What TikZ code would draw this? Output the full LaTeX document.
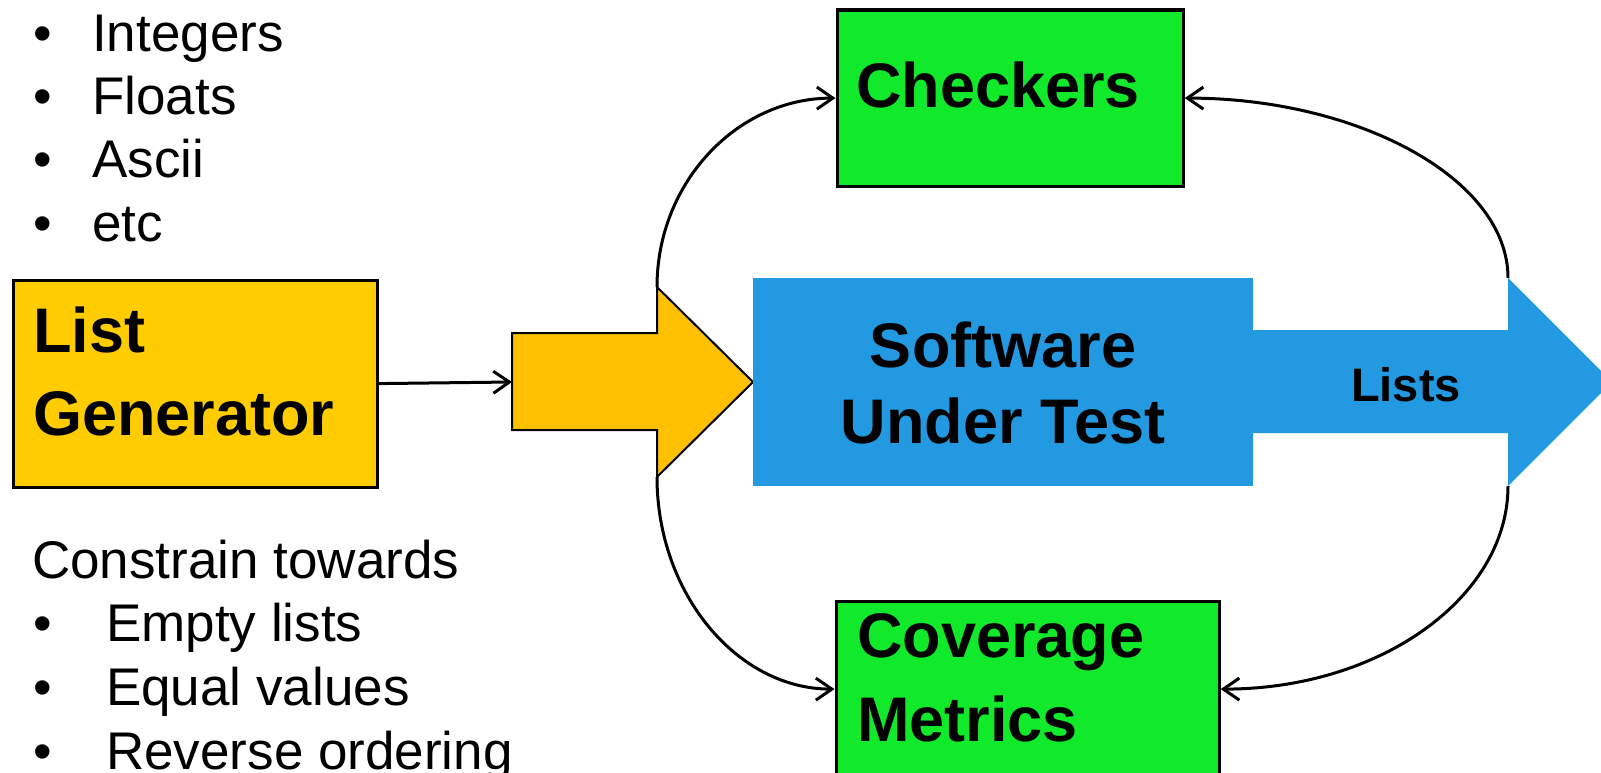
\documentclass[tikz,border=0pt]{standalone}
\usepackage{fontspec}
\setmainfont{Liberation Sans}
\usetikzlibrary{arrows.meta}
\definecolor{lgyellow}{HTML}{FFCC00}
\definecolor{arrowyellow}{HTML}{FFC000}
\definecolor{sutblue}{HTML}{2299E1}
\definecolor{boxgreen}{HTML}{11E92B}
\begin{document}
\begin{tikzpicture}[x=1pt,y=-1pt,
  box/.style={draw=black, line width=3.2pt, inner sep=0pt, anchor=north west},
  conn/.style={line width=3pt, -{Straight Barb[length=16pt,width=22pt]}},
  txt/.style={inner sep=0pt, anchor=base west, font=\fontsize{53}{64}\selectfont},
  btxt/.style={inner sep=0pt, anchor=base west, font=\fontsize{63}{76}\selectfont\bfseries}]
\path[use as bounding box, clip] (0,0) rectangle (1601,773);

% left texts
\node[txt] (i1) at (33,51.5) {\makebox[59pt][l]{•}Integers};
\node[txt] (i2) at (33,114.8) {\makebox[59pt][l]{•}Floats};
\node[txt] (i3) at (33,178) {\makebox[59pt][l]{•}Ascii};
\node[txt] (i4) at (33,241.3) {\makebox[59pt][l]{•}etc};
\node[txt] (c0) at (32,578) {Constrain towards};
\node[txt] (c1) at (33,641) {\makebox[73pt][l]{•}Empty lists};
\node[txt] (c2) at (33,705) {\makebox[73pt][l]{•}Equal values};
\node[txt] (c3) at (33,769) {\makebox[73pt][l]{•}Reverse ordering};

% list generator
\node[box, fill=lgyellow, minimum width=364pt, minimum height=207pt] (lg) at (11.5,278.5) {};
\node[btxt] (lg1) at (33,352.6) {List};
\node[btxt] (lg2) at (33,435.4) {Generator};

% yellow arrow
\draw[fill=arrowyellow, line width=2pt, line join=miter]
  (512,333) -- (657,333) -- (657,287) -- (753,382) -- (657,477) -- (657,430) -- (512,430) -- cycle;
\coordinate (yain) at (512,382);
\coordinate (yatop) at (657,287);
\coordinate (yabot) at (657,477);

% software under test
\fill[sutblue] (753,278) rectangle (1253,486);
\fill[sutblue] (1252,330) -- (1508,330) -- (1508,278) -- (1612,382) -- (1508,486) -- (1508,433) -- (1252,433) -- cycle;
\coordinate (batop) at (1508,278);
\coordinate (babot) at (1508,486);
\node[btxt, anchor=base] (sut1) at (1003,367) {Software};
\node[btxt, anchor=base] (sut2) at (1003,443) {Under Test};
\node[inner sep=0pt, anchor=base, font=\fontsize{47}{56}\selectfont\bfseries] (lists) at (1406,401) {Lists};

% green boxes
\node[box, fill=boxgreen, minimum width=346pt, minimum height=176pt] (chk) at (835.5,8.5) {};
\node[btxt] (chkt) at (856,107.5) {Checkers};
\node[box, fill=boxgreen, minimum width=383pt, minimum height=176pt] (cov) at (834.5,599.5) {};
\node[btxt] (cov1) at (857,657) {Coverage};
\node[btxt] (cov2) at (857,741.7) {Metrics};

% connectors
\draw[conn] (lg.east) -- (yain);
\draw[conn] (yatop) .. controls +(0,-105) and +(-98,0) .. (chk.west);
\draw[conn] (batop) .. controls +(0,-100) and +(172,0) .. (chk.east);
\draw[conn] (yabot) .. controls +(0,117) and +(-97,0) .. (cov.west);
\draw[conn] (babot) .. controls +(0,111) and +(160,0) .. (cov.east);
\end{tikzpicture}
\end{document}
